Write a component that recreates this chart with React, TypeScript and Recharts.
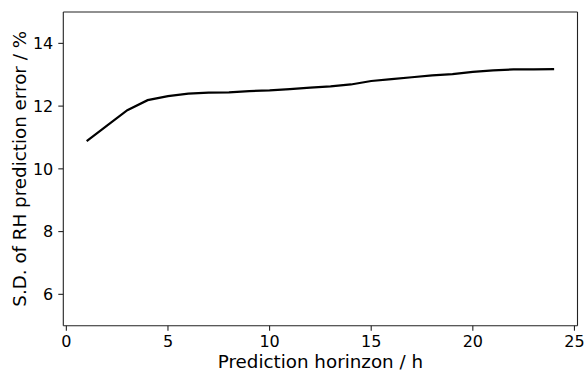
import { LineChart, Line, XAxis, YAxis, ReferenceLine, Label } from 'recharts'

const horizons = [1, 2, 3, 4, 5, 6, 7, 8, 9, 10, 11, 12, 13, 14, 15, 16, 17, 18, 19, 20, 21, 22, 23, 24]
const sdError = [
  10.88, 11.38, 11.87, 12.19, 12.32, 12.4, 12.43, 12.44, 12.48, 12.5, 12.54, 12.59,
  12.63, 12.69, 12.8, 12.86, 12.92, 12.98, 13.02, 13.09, 13.14, 13.17, 13.17, 13.18,
]
const xTicks = [0, 5, 10, 15, 20, 25]
const yTicks = [6, 8, 10, 12, 14]

const data = horizons.map((h, i) => ({ h, sd: sdError[i] }))

const FONT = 'DejaVu Sans, sans-serif'
const SPINE = '#222'

// rotated y label, drawn by hand so the baseline sits where matplotlib puts it
const YLabel = (props: any) => {
  const vb = props.viewBox || {}
  const cy = vb.y + vb.height / 2
  return (
    <text
      x={26.5}
      y={cy}
      transform={`rotate(-90, 26.5, ${cy})`}
      textAnchor="middle"
      fontSize={18.3}
      fontFamily={FONT}
      fill="#000"
    >
      S.D. of RH prediction error / %
    </text>
  )
}

export default function App() {
  return (
    <div style={{ position: 'absolute', left: 0, top: 0, width: 587, height: 379, background: '#fff' }}>
      <LineChart
        width={587}
        height={379}
        data={data}
        margin={{ top: 12, right: 9.5, bottom: 0, left: 0 }}
      >
        <XAxis
          dataKey="h"
          type="number"
          domain={[-0.15, 25.15]}
          allowDataOverflow
          ticks={xTicks}
          height={53.3}
          tickSize={5}
          tickMargin={5.3}
          stroke={SPINE}
          strokeWidth={1.1}
          tick={{ fill: '#000', fontSize: 16, fontFamily: FONT }}
        >
          <Label
            value="Prediction horinzon / h"
            position="insideBottom"
            offset={11.5}
            fontSize={18.3}
            fontFamily={FONT}
            fill="#000"
          />
        </XAxis>
        <YAxis
          type="number"
          domain={[5, 15]}
          allowDataOverflow
          ticks={yTicks}
          width={63.3}
          tickSize={5}
          tickMargin={5}
          stroke={SPINE}
          strokeWidth={1.1}
          tick={{ fill: '#000', fontSize: 16, fontFamily: FONT }}
        >
          <Label content={<YLabel />} />
        </YAxis>
        <ReferenceLine y={15} stroke={SPINE} strokeWidth={1.1} ifOverflow="extendDomain" />
        <ReferenceLine x={25.15} stroke={SPINE} strokeWidth={1.1} ifOverflow="extendDomain" />
        <Line
          dataKey="sd"
          stroke="#000"
          strokeWidth={2.2}
          dot={false}
          isAnimationActive={false}
        />
      </LineChart>
    </div>
  )
}
